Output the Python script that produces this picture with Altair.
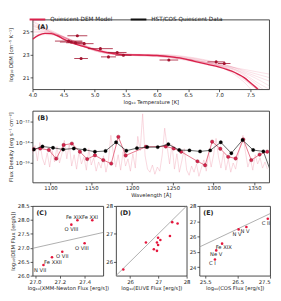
import altair as alt
import pandas as pd

FONT = "DejaVu Sans"
TXT = "#222222"
RED = "#d9214b"
DARKRED = "#a3132f"
PINK = "#f2a7b8"
MODLINE = "#e25470"
DOT = "#e4163c"
GRAY = "#9a9a9a"

# ---------------- Panel A : DEM ----------------
A_xticks = [4.0, 4.5, 5.0, 5.5, 6.0, 6.5, 7.0, 7.5]
A_yticks = [21, 23, 25]
model_T = [4.0, 4.1, 4.2, 4.3, 4.4, 4.5, 4.6, 4.8, 5.0, 5.2, 5.4, 5.6, 5.8, 6.0,
           6.2, 6.4, 6.6, 6.8, 7.0, 7.2, 7.3, 7.4, 7.5, 7.6, 7.65]
model_DEM = [24.3, 24.65, 24.8, 24.78, 24.6, 24.3, 24.05, 23.7, 23.4, 23.15, 23.0,
             22.95, 22.93, 22.9, 22.8, 22.65, 22.4, 22.15, 21.9, 21.55, 21.3, 21.0,
             20.55, 20.1, 19.8]
sample_T = [4.0, 4.2, 4.4, 4.6, 4.8, 5.0, 5.3, 5.6, 6.0, 6.4, 6.8, 7.1, 7.4, 7.6, 7.8]
samples = [
    [25.9, 25.3, 24.8, 24.2, 23.7, 23.35, 23.0, 22.9, 22.85, 22.6, 22.2, 21.8, 21.0, 20.2, 19.5],
    [25.4, 25.1, 24.7, 24.25, 23.8, 23.4, 23.05, 22.95, 22.9, 22.7, 22.3, 21.95, 21.4, 20.9, 20.3],
    [24.9, 24.9, 24.6, 24.2, 23.75, 23.4, 23.1, 23.0, 22.95, 22.7, 22.3, 21.9, 21.2, 20.4, 19.6],
    [25.6, 25.2, 24.75, 24.3, 23.85, 23.45, 23.1, 22.95, 22.85, 22.55, 22.1, 21.7, 20.6, 19.5, 19.0],
    [24.6, 24.8, 24.65, 24.2, 23.7, 23.3, 23.0, 22.95, 22.95, 22.8, 22.45, 22.1, 21.6, 21.3, 21.0],
    [25.2, 25.0, 24.7, 24.3, 23.8, 23.35, 23.0, 22.9, 22.9, 22.75, 22.4, 22.0, 21.3, 20.6, 20.0],
    [25.8, 25.2, 24.6, 24.1, 23.7, 23.3, 23.05, 22.95, 22.9, 22.65, 22.25, 21.85, 20.9, 20.0, 19.3],
    [24.4, 24.7, 24.6, 24.25, 23.8, 23.4, 23.1, 22.9, 22.8, 22.6, 22.3, 22.0, 21.7, 21.5, 21.3],
    [25.0, 24.95, 24.7, 24.3, 23.85, 23.5, 23.15, 23.0, 22.9, 22.65, 22.2, 21.8, 20.8, 20.0, 19.4],
    [25.5, 25.1, 24.7, 24.2, 23.75, 23.4, 23.05, 23.0, 23.0, 22.85, 22.5, 22.1, 21.5, 21.1, 20.7],
]
obs_T = [4.58, 4.62, 4.69, 4.72, 4.83, 4.78, 5.09, 5.22, 5.36, 5.46, 6.19, 6.95, 7.08]
obs_DEM = [24.14, 24.06, 24.0, 24.6, 23.92, 22.64, 23.49, 22.78, 23.16, 22.92, 22.51, 22.35, 22.21]
obs_Terr = [0.22, 0.18, 0.15, 0.16, 0.15, 0.11, 0.2, 0.12, 0.15, 0.13, 0.15, 0.14, 0.1]

# ---------------- Panel B : spectrum ----------------
B_xticks = [1100, 1150, 1200, 1250, 1300, 1350]
B_yticks = [-16, -14, -12]
B_ylabels = ["10⁻¹⁶", "10⁻¹⁴", "10⁻¹²"]
spec_wl = list(range(1078, 1367, 3))
spec_logflux = [
    -15.2, -14.3, -15.8, -14.0, -15.5, -16.2, -15.0, -16.4, -14.8, -15.9,
    -14.4, -16.0, -15.1, -13.8, -15.6, -14.2, -16.3, -15.2, -16.6, -14.9,
    -16.1, -15.4, -16.7, -14.6, -16.2, -15.5, -16.8, -15.9, -16.5, -15.3,
    -16.9, -15.8, -13.3, -15.0, -16.4, -15.2, -16.7, -14.9, -16.3, -15.6,
    -16.8, -15.1, -16.5, -13.4, -14.8, -11.2, -15.3, -16.6, -16.9, -16.2,
    -17.1, -16.4, -16.8, -15.2, -12.6, -14.4, -16.1, -14.2, -16.6, -15.1,
    -16.9, -15.8, -14.6, -16.7, -17.2, -16.3, -16.9, -16.1, -17.3, -16.5,
    -15.7, -16.8, -15.0, -16.4, -15.2, -13.6, -15.4, -16.5, -15.0, -16.7,
    -15.6, -16.9, -16.0, -16.6, -15.3, -14.2, -13.3, -14.9, -16.4, -15.6,
    -16.7, -15.2, -16.1, -15.5, -16.5, -15.9, -16.6,
]
cos_wl = [1079.6, 1090.2, 1103.1, 1115.6, 1128.6, 1142.0, 1154.5, 1167.5, 1180.4,
          1193.0, 1206.0, 1218.6, 1231.5, 1244.5, 1257.8, 1270.4, 1283.4, 1295.8,
          1308.8, 1321.7, 1335.5, 1348.5, 1361.0, 1374.0]
cos_logflux = [-14.68, -14.39, -14.52, -14.68, -14.58, -14.71, -14.90, -14.83, -13.98,
               -14.80, -14.55, -14.45, -14.45, -14.17, -14.74, -14.77, -14.87, -14.77,
               -13.98, -15.05, -13.76, -14.74, -14.87, -17.7]
mod_wl = [1079.0, 1087.4, 1098.0, 1107.0, 1116.1, 1126.2, 1136.1, 1145.0, 1154.5,
          1164.7, 1174.5, 1183.2, 1192.2, 1217.0, 1241.3, 1251.1, 1260.2, 1280.2,
          1289.6, 1298.2, 1308.2, 1317.9, 1327.0, 1336.4, 1346.2, 1356.4, 1365.8]
mod_logflux = [-14.65, -14.58, -14.74, -15.58, -14.24, -14.11, -14.90, -15.62, -15.25,
               -15.72, -16.06, -13.45, -15.27, -14.42, -14.39, -14.58, -14.90, -15.84,
               -16.22, -13.92, -14.61, -15.40, -15.56, -13.70, -15.72, -15.18, -14.90]

# ---------------- Panel C : XMM ----------------
C_ion = ["Fe XIX", "Fe XXI", "O VIII", "O VIII", "O VII", "Fe XXII", "N VII"]
C_obs = [27.342, 27.462, 27.293, 27.40, 27.22, 27.137, 27.068]
C_dem = [27.99, 27.99, 27.83, 27.16, 26.86, 26.66, 26.38]
C_dx = [-3.5, -2.3, 0, -2.7, 0, 1, -3.4]
C_dy = [-3.6, -3.6, 4.5, 4.5, 4.5, 4.7, 4.6]

# ---------------- Panel D : EUVE ----------------
D_obs = [25.76, 26.56, 26.95, 26.99, 26.99, 27.07, 26.84, 26.95, 27.41, 27.49, 27.68]
D_dem = [25.72, 26.69, 26.69, 26.60, 26.86, 26.78, 26.45, 26.39, 26.92, 27.42, 27.37]

# ---------------- Panel E : COS ----------------
E_ion = ["C II", "N V", "N V", "Fe XIX", "Ne V", "C I"]
E_obs = [27.43, 26.53, 26.77, 26.02, 25.84, 25.80]
E_dem = [27.17, 26.47, 26.63, 25.54, 25.10, 24.50]
E_dx = [-2, -1.7, -1.3, 1.7, 0, -2.7]
E_dy = [4, 4.6, 4, 3.4, 4, 4]

LEG = ["Quiescent DEM Model", "HST/COS Quiescent Data"]

# ---------------- layout / style ----------------
W_AB = 241
HA, HB, HC = 71, 73, 71
WC = WD = WE = 72
YEXT = 17.5


def letter(t, dx=5, dy=4):
    return alt.Chart(pd.DataFrame({"t": [t]})).mark_text(
        align="left", baseline="top", fontWeight="bold", fontSize=6.5,
        font=FONT, color=TXT
    ).encode(x=alt.value(dx), y=alt.value(dy), text="t:N")


# ----- A -----
scAx = alt.Scale(domain=[4.0, 7.8], nice=False, zero=False)
scAy = alt.Scale(domain=[20, 26], nice=False, zero=False)
axAx = alt.Axis(values=A_xticks, format=".1f", title="log₁₀ Temperature [K]", labelFlush=False)
axAy = alt.Axis(values=A_yticks, format="d", title="log₁₀ DEM [cm⁻⁵ K⁻¹]",
                minExtent=YEXT, maxExtent=YEXT)


def AX(f):
    return alt.X(f, type="quantitative", scale=scAx, axis=axAx)


def AY(f):
    return alt.Y(f, type="quantitative", scale=scAy, axis=axAy)


samp_rows = []
for i, s in enumerate(samples):
    for t, v in zip(sample_T, s):
        samp_rows.append({"sample": i, "x": t, "y": v})
df_samp = pd.DataFrame(samp_rows)
df_model = pd.DataFrame({"x": model_T, "y": model_DEM, "lab": LEG[0]})
df_obs = pd.DataFrame({"x": obs_T, "y": obs_DEM,
                       "lo": [t - e for t, e in zip(obs_T, obs_Terr)],
                       "hi": [t + e for t, e in zip(obs_T, obs_Terr)]})

a_samp = alt.Chart(df_samp).mark_line(
    color=RED, opacity=0.17, strokeWidth=0.8, clip=True, interpolate="monotone"
).encode(x=AX("x"), y=AY("y"), detail="sample:N")
a_model = alt.Chart(df_model).mark_line(
    strokeWidth=1.4, clip=True, interpolate="monotone"
).encode(
    x=AX("x"), y=AY("y"),
    color=alt.Color("lab:N", scale=alt.Scale(domain=LEG, range=[RED, "#111111"]),
                    legend=alt.Legend(orient="none", legendX=-4, legendY=-9,
                                      direction="horizontal", title=None,
                                      symbolType="stroke", symbolSize=256,
                                      symbolStrokeWidth=2, labelFontSize=5.8,
                                      labelFont=FONT, labelColor=TXT,
                                      columnPadding=14, labelOffset=4, padding=0))
)
a_err = alt.Chart(df_obs).mark_rule(color=DARKRED, strokeWidth=0.8).encode(
    x=AX("lo"), x2="hi", y=AY("y"))
a_pts = alt.Chart(df_obs).mark_circle(color=DARKRED, size=10, opacity=1).encode(
    x=AX("x"), y=AY("y"))
chartA = alt.layer(a_samp, a_model, a_err, a_pts, letter("(A)", 5, 5)).properties(
    width=W_AB, height=HA)

# ----- B -----
scBx = alt.Scale(domain=[1078, 1368], nice=False, zero=False)
scBy = alt.Scale(domain=[-17.9, -10.9], nice=False, zero=False)
lab_expr = " : ".join(
    [f"datum.value == {v} ? '{l}'" for v, l in zip(B_yticks, B_ylabels)]) + " : ''"
axBx = alt.Axis(values=B_xticks, format="d", title="Wavelength [Å]", labelFlush=False)
axBy = alt.Axis(values=B_yticks, labelExpr=lab_expr,
                title="Flux Density [erg s⁻¹ cm⁻²]", minExtent=YEXT, maxExtent=YEXT)


def BX(f):
    return alt.X(f, type="quantitative", scale=scBx, axis=axBx)


def BY(f):
    return alt.Y(f, type="quantitative", scale=scBy, axis=axBy)


df_spec = pd.DataFrame({"x": spec_wl, "y": spec_logflux})
df_cos = pd.DataFrame({"x": cos_wl, "y": cos_logflux})
df_mod = pd.DataFrame({"x": mod_wl, "y": mod_logflux})

b_spec = alt.Chart(df_spec).mark_line(color=PINK, opacity=0.75, strokeWidth=0.6, clip=True).encode(
    x=BX("x"), y=BY("y"))
b_modl = alt.Chart(df_mod).mark_line(color=MODLINE, strokeWidth=0.8, clip=True).encode(
    x=BX("x"), y=BY("y"))
b_modp = alt.Chart(df_mod).mark_point(filled=True, fill=RED, stroke="#7d0c22", strokeWidth=0.4,
                                      size=12, opacity=1, clip=True).encode(x=BX("x"), y=BY("y"))
b_cosl = alt.Chart(df_cos).mark_line(color="#222222", strokeWidth=0.7, clip=True).encode(
    x=BX("x"), y=BY("y"))
b_cosp = alt.Chart(df_cos).mark_point(filled=True, fill="#000000", stroke="#000000", strokeWidth=0.3,
                                      size=12, opacity=1, clip=True).encode(x=BX("x"), y=BY("y"))
chartB = alt.layer(b_spec, b_modl, b_modp, b_cosl, b_cosp, letter("(B)", 5, 4)).properties(
    width=W_AB, height=HB)


# ----- C, D, E -----
def scatter(xs, ys, xdom, ydom, xticks, yticks, xfmt, yfmt, xtitle, ytitle,
            w, h, tag, ions=None, dxs=None, dys=None, xflush=False):
    scx = alt.Scale(domain=xdom, nice=False, zero=False)
    scy = alt.Scale(domain=ydom, nice=False, zero=False)
    axx = alt.Axis(values=xticks, format=xfmt, title=xtitle, labelFlush=xflush)
    axy = alt.Axis(values=yticks, format=yfmt, title=ytitle)
    X = lambda f: alt.X(f, type="quantitative", scale=scx, axis=axx)
    Y = lambda f: alt.Y(f, type="quantitative", scale=scy, axis=axy)
    lo = max(xdom[0], ydom[0])
    hi = min(xdom[1], ydom[1])
    diag = alt.Chart(pd.DataFrame({"x": [lo, hi], "y": [lo, hi]})).mark_line(
        color=GRAY, strokeWidth=0.8).encode(x=X("x"), y=Y("y"))
    df = pd.DataFrame({"x": xs, "y": ys})
    pts = alt.Chart(df).mark_circle(color=DOT, size=7, opacity=1).encode(x=X("x"), y=Y("y"))
    layers = [diag, pts]
    if ions:
        for xv, yv, t, ddx, ddy in zip(xs, ys, ions, dxs, dys):
            dfl = pd.DataFrame({"x": [xv], "y": [yv], "t": [t]})
            layers.append(alt.Chart(dfl).mark_text(
                fontSize=5.3, font=FONT, color=TXT, baseline="middle",
                align="center", dx=ddx, dy=ddy
            ).encode(x=X("x"), y=Y("y"), text="t:N"))
    layers.append(letter(tag, 4, 4))
    return alt.layer(*layers).properties(width=w, height=h)


chartC = scatter(C_obs, C_dem, [26.98, 27.55], [26.0, 28.5], [27.0, 27.2, 27.4],
                 [26.0, 26.5, 27.0, 27.5, 28.0, 28.5], ".1f", ".1f",
                 "log₁₀(XMM-Newton Flux [erg/s])", "log₁₀(DEM Flux [erg/s])",
                 WC, HC, "(C)", C_ion, C_dx, C_dy)
chartD = scatter(D_obs, D_dem, [25.5, 28.0], [25.5, 28.0], [26, 27, 28], [26, 27, 28],
                 "d", "d", "log₁₀(EUVE Flux [erg/s])", None, WD, HC, "(D)")
chartE = scatter(E_obs, E_dem, [25.32, 27.5], [23.45, 28.0], [25.5, 26.5, 27.5],
                 [24, 25, 26, 27, 28], ".1f", "d", "log₁₀(COS Flux [erg/s])", None,
                 WE, HC, "(E)", E_ion, E_dx, E_dy, xflush=True)

bottom = alt.hconcat(chartC, chartD, chartE, spacing=13, bounds="flush")

chart = alt.concat(chartA, chartB, bottom, columns=1, spacing=4, align="none").properties(
    padding=0
).configure(font=FONT).configure_view(
    stroke="#333333", strokeWidth=0.9
).configure_axis(
    labelFont=FONT, titleFont=FONT, labelFontSize=5.4, titleFontSize=5.3,
    labelColor=TXT, titleColor=TXT, tickColor="#333333", tickSize=2.5,
    tickWidth=0.8, domain=False, grid=False, labelPadding=1, titlePadding=1.5,
    titleFontWeight="normal", labelOverlap=False
)

chart.save("out.html", embed_options={"renderer": "svg", "actions": False})
